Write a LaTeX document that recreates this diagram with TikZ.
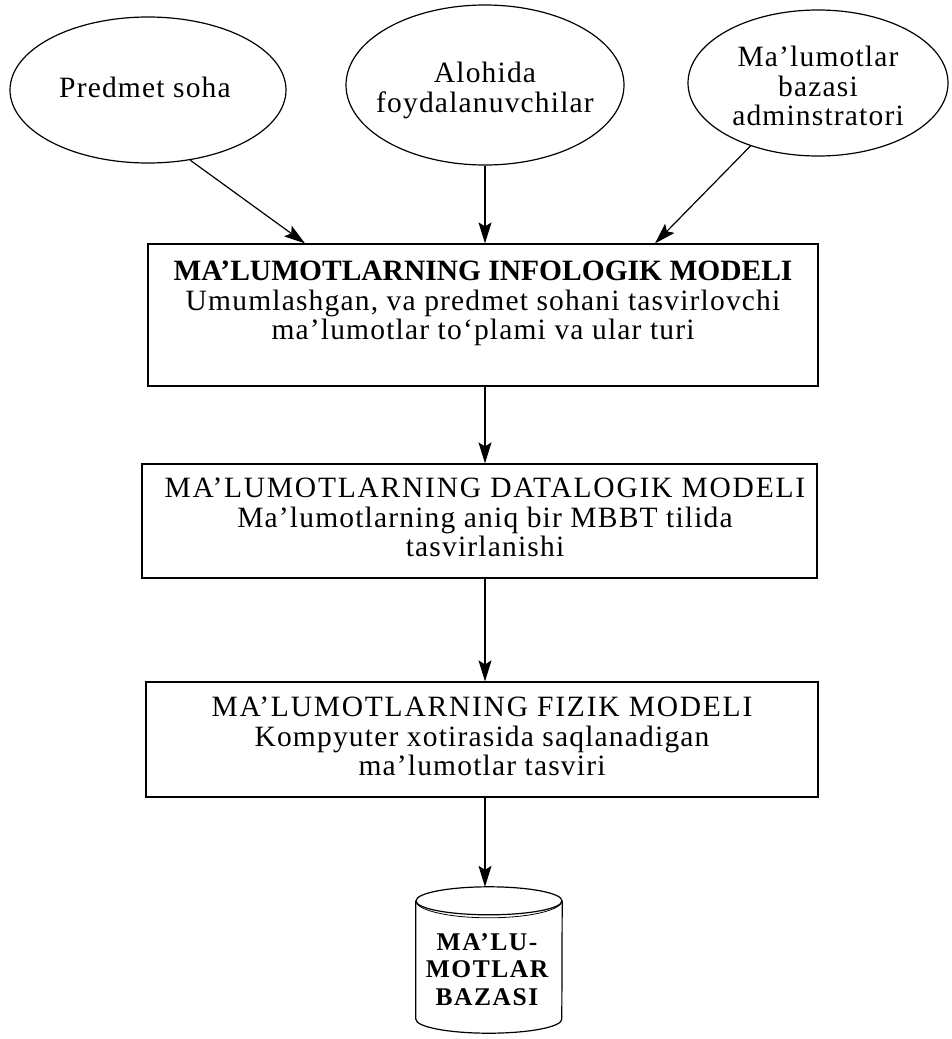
\documentclass[tikz,border=0pt]{standalone}
\usepackage{fontspec}
\setmainfont{Liberation Serif}
\usetikzlibrary{arrows.meta,shapes.geometric,calc}
\newfontfamily\regfont[LetterSpace=4]{Liberation Serif}
\newfontfamily\capfont[LetterSpace=6]{Liberation Serif}
\newfontfamily\boldfont[LetterSpace=0]{Liberation Serif Bold}
\newfontfamily\dbfont[LetterSpace=6]{Liberation Serif Bold}
\begin{document}
\begin{tikzpicture}[x=1pt,y=-1pt,
  lw/.style={line width=1.2pt},
  oval/.style={draw,lw,ellipse,inner sep=0pt},
  modelbox/.style={draw,lw,rectangle,inner sep=0pt},
  txt/.style={inner sep=0pt,align=center,font=\regfont\fontsize{29.5}{29.5}\selectfont},
  arr/.style={lw,-{Stealth[length=21pt,width=13pt,inset=4pt]}}]
\useasboundingbox (0,0) rectangle (952,1039);
% ellipses
\node[oval,minimum width=276pt,minimum height=146pt] (e1) at (148,90) {};
\node[oval,minimum width=278pt,minimum height=160pt] (e2) at (485,85) {};
\node[oval,minimum width=260pt,minimum height=146pt] (e3) at (818,83) {};
\node[txt,anchor=base] (e1t) at (145,97.5) {Predmet soha};
\node[txt,anchor=north] (e2t) at (485,62) {Alohida\\foydalanuvchilar};
\node[txt,anchor=north] (e3t) at (818,46) {Ma’lumotlar\\bazasi\\adminstratori};
% boxes
\node[modelbox,minimum width=670pt,minimum height=142pt] (b1) at (483,315) {};
\node[modelbox,minimum width=675pt,minimum height=114pt] (b2) at (479.5,521) {};
\node[modelbox,minimum width=672pt,minimum height=115pt] (b3) at (482,739.5) {};
\node[txt,anchor=north] (b1t) at (483,261) {{\boldfont MA’LUMOTLARNING INFOLOGIK MODELI}\\Umumlashgan, va predmet sohani tasvirlovchi\\ma’lumotlar to‘plami va ular turi};
\node[txt,anchor=north] (b2t) at (485,478) {{\capfont MA’LUMOTLARNING DATALOGIK MODELI}\\Ma’lumotlarning aniq bir MBBT tilida\\tasvirlanishi};
\node[txt,anchor=north] (b3t) at (482,697) {{\capfont MA’LUMOTLARNING FIZIK MODELI}\\Kompyuter xotirasida saqlanadigan\\ma’lumotlar tasviri};
% database cylinder
\node[draw=none,minimum width=146pt,minimum height=146pt,inner sep=0pt] (db) at (489,960) {};
\draw[lw] ($(db.north west)+(0,14)$) -- ($(db.south west)+(0,-14)$)
  arc[start angle=180,end angle=0,x radius=73,y radius=14]
  -- ($(db.north east)+(0,14)$);
\draw[lw] ($(db.north)+(0,14)$) ellipse[x radius=73,y radius=14];
\draw[line width=0.8pt] ($(db.north west)+(0,14)$) arc[start angle=180,end angle=0,x radius=73,y radius=17];
\node[txt,anchor=north,font=\dbfont\fontsize{25.5}{27.5}\selectfont] (dbt) at (487,933) {MA’LU-\\MOTLAR\\BAZASI};
% connectors
\draw[arr] (e1.-59) -- ($(b1.north)+(-178,0)$);
\draw[arr] (e2.south) -- (b1.north -| e2.south);
\draw[arr] (e3.-137) -- ($(b1.north)+(172,0)$);
\draw[arr] (b1.south -| e2.south) -- (b2.north -| e2.south);
\draw[arr] (b2.south -| e2.south) -- (b3.north -| e2.south);
\draw[arr] (b3.south -| e2.south) -- (db.north -| e2.south);
\end{tikzpicture}
\end{document}
